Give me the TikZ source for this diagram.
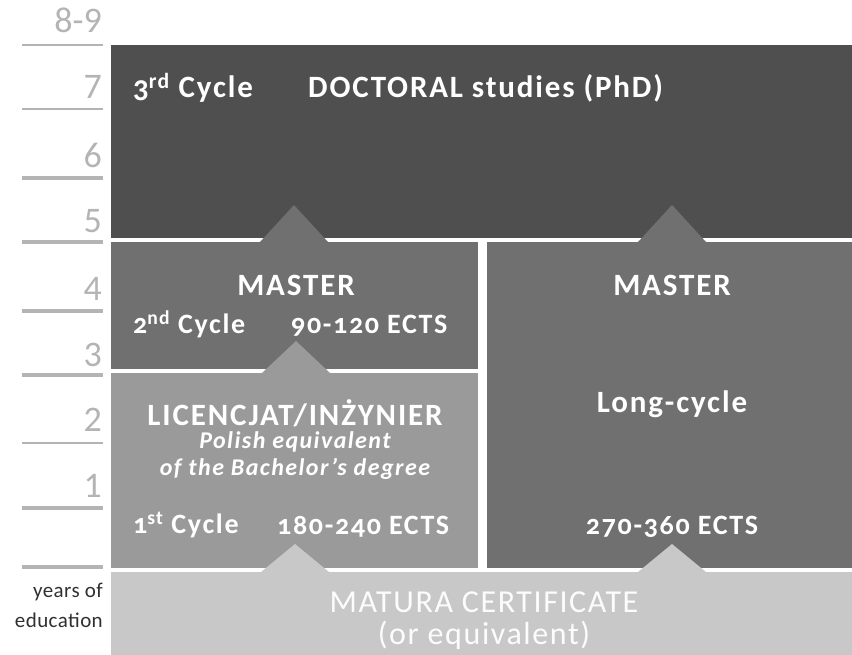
\documentclass[tikz,border=0pt]{standalone}
\usepackage{fontspec}
\setmainfont{Carlito}
\newfontfamily\boxfont[Numbers=OldStyle,LetterSpace=6]{Carlito}
\newfontfamily\matfont[LetterSpace=5]{Carlito}
\newfontfamily\yearsfont[LetterSpace=2]{Carlito}
\usetikzlibrary{calc}
\definecolor{docgray}{HTML}{4F4F4F}
\definecolor{midgray}{HTML}{707070}
\definecolor{licgray}{HTML}{9A9A9A}
\definecolor{matgray}{HTML}{C8C8C8}
\definecolor{rulegray}{HTML}{B4B4B4}
\definecolor{notegray}{HTML}{303030}
\begin{document}
\begin{tikzpicture}[x=1pt,y=-1pt,
  panel/.style={anchor=north west, inner sep=0pt, outer sep=0pt, draw=none},
  txt/.style={text=white, inner sep=0pt, font=\boxfont\bfseries\fontsize{31}{34}\selectfont},
  small/.style={text=white, inner sep=0pt, font=\boxfont\bfseries\fontsize{28}{32}\selectfont},
  note/.style={text=white, inner sep=0pt, align=center, font=\boxfont\bfseries\itshape\fontsize{24}{27}\selectfont},
  mat/.style={text=white!95!matgray, inner sep=0pt, font=\matfont\fontsize{32}{36}\selectfont},
  num/.style={text=rulegray, inner sep=0pt, anchor=east, font=\fontsize{36}{40}\selectfont},
  tick/.style={draw=rulegray, line width=2.5pt},
  years/.style={text=notegray, inner sep=0pt, anchor=east, font=\yearsfont\fontsize{21}{24}\selectfont}]

\useasboundingbox (0,0) rectangle (852,655);

% level panels
\node[panel, fill=docgray, minimum width=741pt, minimum height=193pt] (doc) at (111,45) {};
\node[panel, fill=midgray, minimum width=367pt, minimum height=127pt] (m2) at (111,242) {};
\node[panel, fill=licgray, minimum width=367pt, minimum height=195pt] (lic) at (111,373) {};
\node[panel, fill=midgray, minimum width=365pt, minimum height=326pt] (mlong) at (487,242) {};
\node[panel, fill=matgray, minimum width=741pt, minimum height=84pt] (mat) at (111,572) {};

% progression wedges
\fill[midgray] ($(m2.north west)+(149,0)$) -- ++(34,-37) -- ++(34,37) -- cycle;
\fill[midgray] ($(mlong.north west)+(151,0)$) -- ++(34,-37) -- ++(34,37) -- cycle;
\fill[licgray] ($(lic.north west)+(151,0)$) -- ++(34,-32) -- ++(34,32) -- cycle;
\fill[matgray] ($(mat.north west)+(150,0)$) -- ++(34,-28) -- ++(34,28) -- cycle;
\fill[matgray] ($(mat.north west)+(527,0)$) -- ++(34,-28) -- ++(34,28) -- cycle;

% doctoral level
\node[txt, anchor=west] (c3) at (133,88) {3\textsuperscript{rd} Cycle};
\node[txt, anchor=west] (phd) at (308,88) {DOCTORAL studies (PhD)};

% second cycle
\node[txt] (ms2) at (296,285) {MASTER};
\node[small, anchor=west] (c2) at (133,324) {2\textsuperscript{nd} Cycle};
\node[small, anchor=west] (e2) at (291,326) {90-120 ECTS};

% first cycle
\node[txt] (li) at (295,413) {LICENCJAT/INŻYNIER};
\node[note] (eq) at (295,456) {Polish equivalent\\of the Bachelor’s degree};
\node[small, anchor=west] (c1) at (133,525) {1\textsuperscript{st} Cycle};
\node[small, anchor=west] (e1) at (277,527) {180-240 ECTS};

% long-cycle master
\node[txt] (msl) at (672,285) {MASTER};
\node[txt] (lc) at (672,404) {Long-cycle};
\node[small] (el) at (672,527) {270-360 ECTS};

% secondary school leaving certificate
\node[mat] (mc) at (484,602) {MATURA CERTIFICATE};
\node[mat] (me) at (484,635) {(or equivalent)};

% scale of years
\foreach \yy/\w in {45/2,109/2,178/3.5,242/3.5,311/3.5,375/3.5,443/2.5,508/3.5,567/3.5}
  \draw[tick, line width=\w pt] (22,\yy) -- (103,\yy);
\node[num] (y89) at (102,20) {8-9};
\foreach \n/\yy in {7/87,6/155,5/221,4/289,3/355,2/420,1/486}
  \node[num] (y\n) at (102,\yy) {\n};
\node[years] (yo) at (103,592) {years of};
\node[years] (ed) at (103,620) {education};
\end{tikzpicture}
\end{document}
